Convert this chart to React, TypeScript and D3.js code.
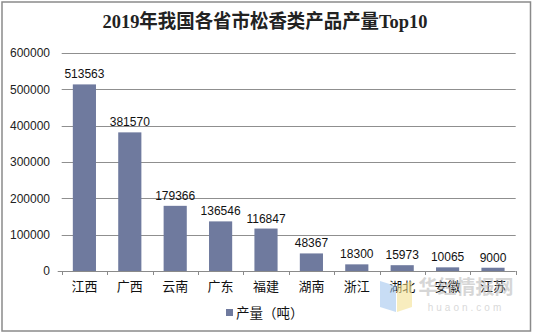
import React, { useEffect, useRef } from "react";
import * as d3 from "d3";

const categories = ["江西", "广西", "云南", "广东", "福建", "湖南", "浙江", "湖北", "安徽", "江苏"];
const values = [513563, 381570, 179366, 136546, 116847, 48367, 18300, 15973, 10065, 9000];
const yTicks = [0, 100000, 200000, 300000, 400000, 500000, 600000];
const title = "2019年我国各省市松香类产品产量Top10";
const seriesName = "产量（吨）";

export default function App() {
  const ref = useRef<SVGSVGElement>(null);
  useEffect(() => {
    const svg = d3.select(ref.current);
    svg.selectAll("*").remove();
    const W = 534, H = 335;
    const left = 61.7, right = 515.7, top = 53, bottom = 271;
    const barColor = "#6f7a9e";
    const sans = "'Liberation Sans', Arial, 'Noto Sans CJK SC', sans-serif";

    svg.append("rect").attr("width", W).attr("height", H).attr("fill", "#fff");
    svg.append("rect").attr("x", 2).attr("y", 2).attr("width", 528.5).attr("height", 329)
      .attr("fill", "none").attr("stroke", "#8a8a8a").attr("stroke-width", 1.5);

    svg.append("text").attr("x", 265).attr("y", 28).attr("text-anchor", "middle")
      .attr("font-family", "'Liberation Serif', 'DejaVu Serif', 'Noto Sans CJK SC', serif")
      .attr("font-weight", "bold").attr("font-size", 19).attr("fill", "#222")
      .attr("textLength", 325).attr("lengthAdjust", "spacingAndGlyphs")
      .text(title);

    const x = d3.scaleBand().domain(categories).range([left, right]).paddingInner(0.49).paddingOuter(0.245);
    const y = d3.scaleLinear().domain([0, 600000]).range([bottom, top]);

    const g = svg.append("g");
    yTicks.forEach((t) => {
      if (t > 0) {
        g.append("line").attr("x1", left).attr("x2", right).attr("y1", Math.round(y(t)) + 0.5).attr("y2", Math.round(y(t)) + 0.5)
          .attr("stroke", "#8f8f8f").attr("stroke-width", 1);
      }
      g.append("text").attr("x", 50).attr("y", y(t)).attr("dy", "0.35em").attr("text-anchor", "end")
        .attr("font-family", sans).attr("font-size", 12).attr("fill", "#222").text(String(t));
    });

    categories.forEach((c, i) => {
      const v = values[i];
      const bx = x(c)!;
      g.append("rect").attr("x", bx).attr("y", y(v)).attr("width", x.bandwidth()).attr("height", bottom - y(v)).attr("fill", barColor);
      g.append("text").attr("x", bx + x.bandwidth() / 2).attr("y", y(v) - 6).attr("text-anchor", "middle")
        .attr("font-family", sans).attr("font-size", 12).attr("fill", "#111").text(String(v));
      g.append("text").attr("x", bx + x.bandwidth() / 2).attr("y", 286).attr("dy", "0.35em").attr("text-anchor", "middle")
        .attr("font-family", sans).attr("font-size", 13).attr("fill", "#111").text(c);
    });

    // x axis line and ticks
    g.append("line").attr("x1", left - 4).attr("x2", right).attr("y1", bottom + 0.5).attr("y2", bottom + 0.5)
      .attr("stroke", "#8a8a8a");
    const step = (right - left) / categories.length;
    for (let i = 0; i <= categories.length; i++) {
      const tx = Math.round(left + i * step) + 0.5;
      g.append("line").attr("x1", tx).attr("x2", tx).attr("y1", bottom).attr("y2", bottom + 4).attr("stroke", "#8a8a8a");
    }

    // watermark
    const wm = svg.append("g").attr("opacity", 0.55);
    wm.append("path").attr("d", "M380,281 L396,286 L396,312 L380,307 Z").attr("fill", "#9cc3ee");
    wm.append("path").attr("d", "M397,286 L412,281 L412,307 L397,312 Z").attr("fill", "#f4e08a");
    wm.append("text").attr("x", 466).attr("y", 294).attr("text-anchor", "middle").attr("font-family", sans)
      .attr("font-weight", "bold").attr("font-size", 19).attr("fill", "#b5b5b5").text("华经情报网");
    wm.append("text").attr("x", 466).attr("y", 311).attr("text-anchor", "middle").attr("font-family", sans)
      .attr("font-size", 10).attr("letter-spacing", 3).attr("fill", "#bbbbbb").text("huaon.com");

    // legend
    svg.append("rect").attr("x", 226).attr("y", 309).attr("width", 7).attr("height", 7).attr("fill", barColor);
    svg.append("text").attr("x", 236).attr("y", 313).attr("dy", "0.35em").attr("font-family", sans)
      .attr("font-size", 13.5).attr("fill", "#111").text(seriesName);
  }, []);
  return <svg ref={ref} width={534} height={335} style={{ position: "absolute", left: 0, top: 0 }} />;
}
